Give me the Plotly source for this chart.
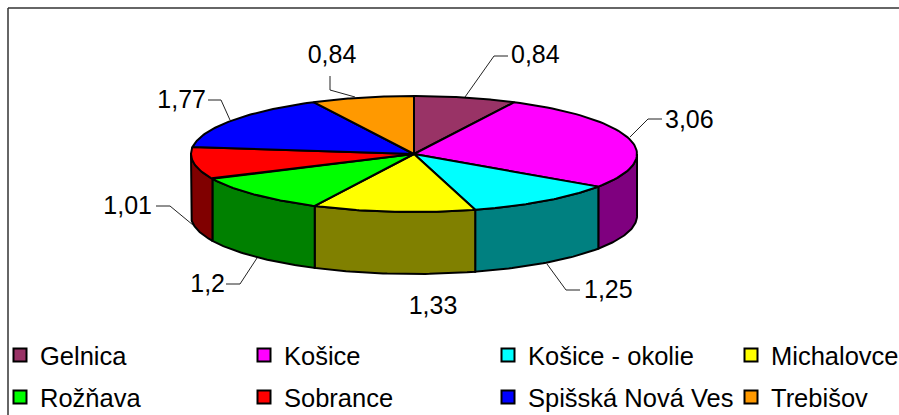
import numpy as np
import plotly.graph_objects as go

districts = ["Gelnica", "Košice", "Košice - okolie", "Michalovce",
             "Rožňava", "Sobrance", "Spišská Nová Ves", "Trebišov"]
values = [0.84, 3.06, 1.25, 1.33, 1.2, 1.01, 1.77, 0.84]

top_colors = ["#993366", "#FF00FF", "#00FFFF", "#FFFF00",
              "#00FF00", "#FF0000", "#0000FF", "#FF9900"]
wall_colors = ["#4C1933", "#7F007F", "#008080", "#808000",
               "#008000", "#800000", "#00007F", "#7F4C00"]

# Layout (pixel scale of the chart area)
W, H = 899, 415
CX, CY, RX, RY, DEPTH = 414, 154, 223, 58, 62
OUT = "#000000"
label_xy = [(511, 57), (665, 122), (584, 292), (433, 308),
            (225, 286), (152, 208), (206, 102), (332, 57)]
label_pos = ["middle right", "middle right", "middle right", "middle center",
             "middle left", "middle left", "middle left", "middle center"]
starts = [(465, 97), (630, 137), (547, 264), None, (257, 258), (193, 225), (230, 120), (355, 97)]
elbows = [[(494, 56), (508, 56)], [(648, 119), (662, 119)], [(566, 290), (580, 290)], None,
          [(240, 284), (226, 284)], [(170, 206), (156, 206)], [(221, 100), (208, 100)], [(330, 90), (330, 76)]]
legend_col_x = [0, 244, 488, 731]
legend_row_y = [355.5, 397.5]

total = sum(values)
edges = np.cumsum([0] + values) / total * 2 * np.pi


def ex(a):
    return CX + RX * np.sin(a)


def ey(a, dz=0):
    return CY - RY * np.cos(a) + dz


fig = go.Figure()

# Side walls: only the front half of the disc (pi/2 .. 3pi/2) is visible
for i in range(len(values)):
    a0, a1 = max(edges[i], np.pi / 2), min(edges[i + 1], 3 * np.pi / 2)
    if a1 <= a0:
        continue
    t = np.linspace(a0, a1, 40)
    xs = np.r_[ex(t), ex(t[::-1]), ex(t[0])]
    ys = np.r_[ey(t), ey(t[::-1], DEPTH), ey(t[0])]
    fig.add_trace(go.Scatter(x=xs, y=ys, mode="lines", fill="toself", fillcolor=wall_colors[i],
                             line=dict(color=OUT, width=2), showlegend=False, hoverinfo="skip"))

# Top face
for i in range(len(values)):
    t = np.linspace(edges[i], edges[i + 1], 60)
    xs = np.r_[CX, ex(t), CX]
    ys = np.r_[CY, ey(t), CY]
    fig.add_trace(go.Scatter(x=xs, y=ys, mode="lines", fill="toself", fillcolor=top_colors[i],
                             line=dict(color=OUT, width=2), showlegend=False,
                             name=districts[i], hoverinfo="name"))

# Leader lines
for s, e in zip(starts, elbows):
    if e is None:
        continue
    fig.add_trace(go.Scatter(x=[s[0], e[0][0], e[1][0]], y=[s[1], e[0][1], e[1][1]], mode="lines",
                             line=dict(color="#222222", width=1), showlegend=False, hoverinfo="skip"))

# Value labels
fig.add_trace(go.Scatter(x=[p[0] for p in label_xy], y=[p[1] for p in label_xy], mode="text",
                         text=[str(v).replace(".", ",") for v in values],
                         textposition=label_pos,
                         textfont=dict(family="Liberation Sans", size=25, color="#000000"),
                         showlegend=False, hoverinfo="skip"))

# Legend entries: one legend per entry, on a 4x2 grid
legends = {}
for i, name in enumerate(districts):
    key = "legend" if i == 0 else f"legend{i + 1}"
    fig.add_trace(go.Scatter(x=[None], y=[None], mode="markers", name=name, legend=key,
                             marker=dict(symbol="square", size=13, color=top_colors[i],
                                         line=dict(color="#000000", width=2))))
    legends[key] = dict(x=legend_col_x[i % 4] / W, y=1 - legend_row_y[i // 4] / H,
                        xanchor="left", yanchor="middle", bgcolor="rgba(0,0,0,0)",
                        font=dict(family="Liberation Sans", size=25.5, color="#000000"),
                        itemclick=False, itemdoubleclick=False, borderwidth=0)

fig.update_layout(
    width=W, height=H, margin=dict(l=0, r=0, t=0, b=0, autoexpand=False),
    paper_bgcolor="#FFFFFF", plot_bgcolor="#FFFFFF",
    xaxis=dict(range=[0, W], visible=False, fixedrange=True),
    yaxis=dict(range=[H, 0], visible=False, fixedrange=True),
    shapes=[
        dict(type="line", xref="x", yref="y", x0=8, x1=W, y0=8, y1=8, line=dict(color="#333333", width=1.5)),
        dict(type="line", xref="x", yref="y", x0=8, x1=8, y0=8, y1=H, line=dict(color="#333333", width=1.5)),
    ],
    **legends,
)

fig.write_html("out.html", post_script="document.body.style.margin='0';document.body.style.overflow='hidden';",
               config={"displayModeBar": False})
